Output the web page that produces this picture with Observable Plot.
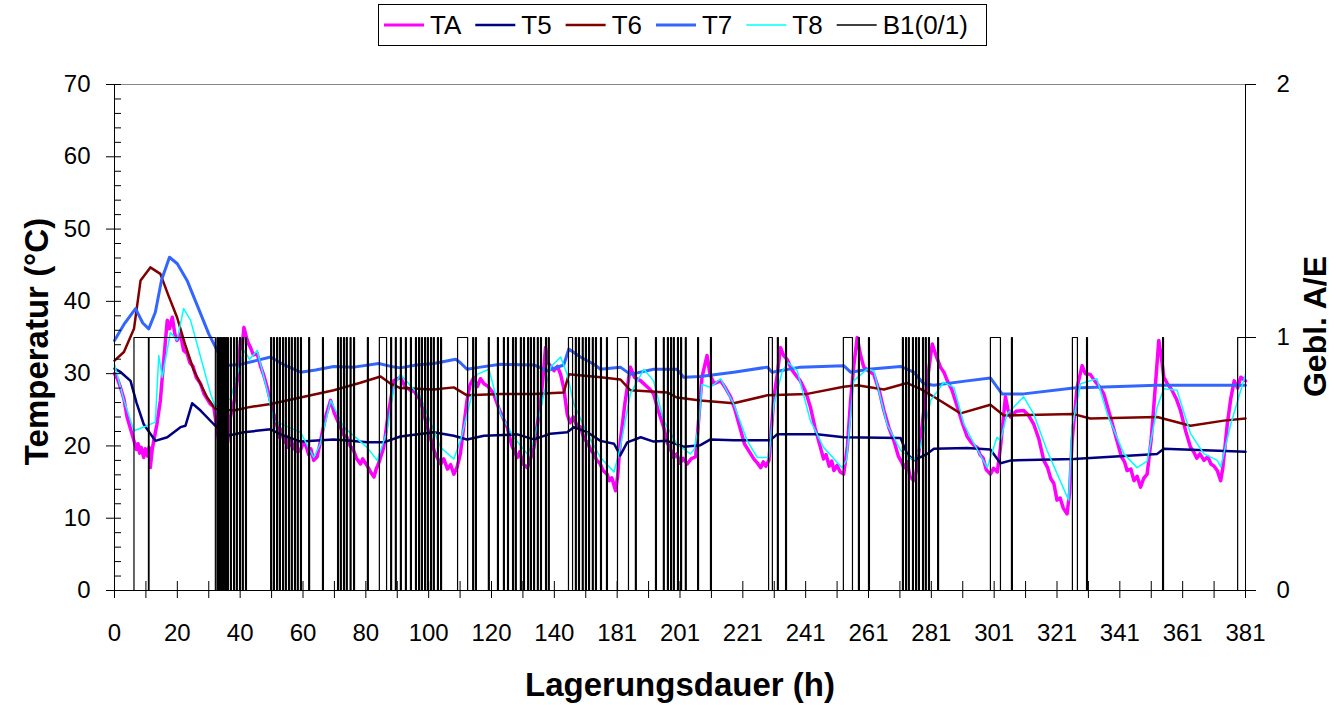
<!DOCTYPE html>
<html><head><meta charset="utf-8">
<script src="https://cdn.jsdelivr.net/npm/d3@7"></script>
<script src="https://cdn.jsdelivr.net/npm/@observablehq/plot@0.6"></script>
<style>
body{margin:0;background:#fff;font-family:"Liberation Sans",Arial,sans-serif;}
#legend{height:50px;}
#legend svg, #chart svg{display:block;}
</style></head><body>
<div id="legend"></div><div id="chart"></div>
<script>
// x = position on the category axis (one label every 20 positions)
const xLabels = ["0","20","40","60","80","100","120","140","181","201","221","241","261","281","301","321","341","361","381"];
const xLabelPos = [0,20,40,60,80,100,120,140,160,180,200,220,240,260,280,300,320,340,360];
const xTickPos = [0,10,20,30,40,50,60,70,80,90,100,110,120,130,140,150,160,170,180,190,200,210,220,230,240,250,260,270,280,290,300,310,320,330,340,350,360];
const yMajor = [0,10,20,30,40,50,60,70];
const yMinor = [2,4,6,8,12,14,16,18,22,24,26,28,32,34,36,38,42,44,46,48,52,54,56,58,62,64,66,68];
const rightLabels = ["0","1","2"];
const rightMax = 2;

const TA = [[0,30.0],[1,29.2],[1.9,28.1],[3,26.5],[4,24],[5,22.5],[6.2,20.7],[7,19.5],[7.5,20.3],[8,19.0],[8.5,19.8],[9.3,18.4],[9.8,19.6],[10.5,18.6],[11,19.8],[11.4,17.0],[12,19.5],[12.5,20.7],[13.5,23],[14.6,26.3],[15.5,31],[16.8,37.4],[17.5,36.2],[18.4,37.8],[19.2,35.5],[19.9,34.6],[21,35.5],[22,33.2],[23.1,32.8],[24,31.5],[25,31],[26,29.5],[27.4,28.6],[28.5,27.2],[29.5,26.5],[30.5,25.8],[31.6,25.4],[32.4,23],[33.2,20.7],[33.6,22],[34,19],[34.5,21],[35,22],[36,20.5],[36.9,24.0],[38.5,27],[39.3,30],[40.1,34.6],[40.6,33.5],[41.2,36.4],[42,35],[42.6,34.2],[43.3,33.6],[44.2,32.6],[45.4,32.8],[46.5,31],[47.5,29.8],[48.6,28.1],[50,25.5],[51.8,22.6],[52.5,21.2],[53,22.3],[54,20.5],[54.6,21.4],[55.3,19.8],[56,20.8],[56.8,19.6],[57.5,20.5],[58.3,19.2],[59.2,19.4],[60,20.4],[61,20],[61.8,18.8],[62.5,19.6],[63.4,18.0],[64.5,18.5],[66.5,22.6],[67.5,24.5],[68.8,26.3],[70,24.5],[71.9,22.6],[73,21.5],[74,21.2],[75,20],[76,19.5],[77,18.3],[78.3,17.5],[79,18.2],[80.5,17.2],[81.5,16.4],[82.6,15.7],[83.3,16.8],[84,17.5],[85.7,19.8],[87,24],[88.9,29.0],[91,29.5],[92.5,28.2],[94.2,27.7],[95.5,27.5],[97.4,26.3],[99,23.5],[100.5,21.2],[102,19],[103.8,17.5],[104.8,18.2],[106,16.8],[107,17.4],[108,16.1],[109,17],[110.1,18.9],[112.2,26.3],[113.2,28.5],[114.4,29.5],[115.5,28.2],[116.5,29.3],[117.6,28.6],[119,28.2],[120.7,27.2],[122.5,25],[125,22.6],[126.5,20],[128.2,18.4],[129,19.2],[130,17.5],[131.4,17.0],[132.3,18],[133.5,19.8],[135.6,25.8],[136.5,30],[137.2,33.6],[138,31.5],[139.9,30.4],[141,31],[142,29.9],[143,28],[144.1,24.4],[145,23.2],[146,24],[147,23],[148.3,22.6],[149.5,21],[150.5,20.5],[151.5,19.5],[152.6,18.9],[153.5,18],[154.5,17.6],[155.5,16.6],[156.8,16.1],[157.5,15.2],[158.3,15.6],[159.5,13.8],[160.2,16],[161,20.7],[162.5,26],[164.2,30.9],[165.5,29.5],[167.5,29.0],[169,28.4],[170.5,27.8],[171.6,27.2],[173,25],[174.8,22.6],[176,20.4],[177,19.5],[178,18.4],[179,18.9],[180,17.6],[181,18.3],[182.3,17.5],[183.5,18.2],[185,18.5],[186,24],[187,29.5],[188.6,32.5],[189.5,30],[190.8,28.6],[192.9,29.0],[194.5,28],[196.1,26.8],[197.5,25],[199.3,22.2],[200.5,20.3],[201.5,19.6],[202.5,18.9],[203.5,18.2],[204.5,17.7],[205.7,17.0],[206.5,17.8],[207.3,17.2],[208.3,18.0],[209.9,26.8],[211,30],[212,33.6],[213,32.5],[214.2,31.9],[215.5,30.6],[216.5,30],[218.3,29.0],[220,27.5],[221.5,25.4],[223,22.5],[224.7,19.8],[225.7,18.2],[226.5,18.8],[227.5,17.2],[228.3,17.9],[229,16.6],[230,17.3],[231,16.4],[232.1,16.1],[233.3,20],[234.3,26.3],[235.3,31],[236.4,35.0],[237.5,32.5],[238.5,30.9],[240,30.4],[241.7,29.9],[243.5,27.5],[244.9,24.9],[246.5,22.5],[248.1,20.7],[249.5,18.6],[250.5,17.8],[251.3,17.0],[252.3,17.8],[253.2,15.8],[254.4,15.2],[255.2,16.5],[256.5,20.7],[258.7,29.0],[260.3,34.1],[261.5,32.5],[262.9,30.9],[264,30.2],[265.1,29.0],[266.5,27.8],[268.3,25.4],[270,23],[271.4,21.3],[272.5,20.6],[273.5,20.1],[274.6,19.8],[275.5,18.8],[276.5,18.3],[277.5,16.7],[278.8,16.1],[279.8,16.9],[281,16.4],[282,19.8],[283.6,26.8],[284.4,25],[285.2,24.0],[287,24.8],[289.4,24.9],[291,24.2],[292.6,23.0],[294.2,21],[295.8,18.0],[297,17],[298,15.5],[299,14.8],[300,12.5],[301,12.8],[302,11.4],[303.2,10.6],[304,13.5],[304.8,20.7],[306.4,28.1],[308,31.1],[309,30],[310.6,29.9],[312,29],[313.5,28.2],[314.9,27.2],[317,24],[319.1,20.7],[320.5,18.5],[321.5,17.8],[322.3,16.6],[323.5,16.8],[324.5,15.2],[325.5,15.8],[326.6,14.3],[327.6,15.5],[328.7,16.1],[330,21],[330.8,25.4],[331.6,30],[332.4,34.6],[333.3,32],[334,29.5],[335.3,28.5],[336.6,27.7],[338,26.5],[339.3,24.9],[341,22],[342.5,19.8],[343.5,19.2],[344.5,18.3],[345.5,18.9],[346.8,18.0],[348,18.5],[349,17.5],[350,17.2],[351,16.6],[352.1,15.2],[352.8,17],[354.2,23.0],[355.3,26.5],[356.4,29.0],[357.5,28],[358.5,29.5],[360,29.0]];

const T5 = [[0,30.7],[2,30.2],[5.1,29.0],[7,26],[9.3,23.0],[13,20.7],[16.8,21.2],[21,22.6],[22.6,22.8],[24.7,25.9],[27.4,24.9],[31.6,23.0],[35.9,21.4],[41.2,21.9],[49.7,22.3],[52.9,21.6],[59.2,20.6],[69.8,20.9],[75.1,20.7],[80.4,20.5],[85.7,20.5],[91,21.3],[101.6,21.9],[108,21.4],[112.2,20.9],[117.6,21.4],[128.2,21.6],[133.5,20.9],[138.8,21.7],[144.1,21.9],[146.2,22.6],[150.5,21.9],[154.7,20.7],[159,20.3],[161,18.7],[163.2,20.5],[167.5,21.2],[171.6,20.6],[175.9,20.7],[181.2,19.9],[186.5,20.1],[189.7,20.9],[197.1,20.8],[208.8,20.8],[210.9,21.6],[223.6,21.6],[232.1,21.2],[250.2,21.1],[252.3,18.9],[254.4,18.0],[258.7,18.9],[260.8,19.6],[271.4,19.7],[278.8,19.5],[282,17.6],[285.4,18.0],[305.3,18.2],[331.9,18.9],[334,19.6],[360,19.2]];

const T6 = [[0,31.8],[3,33.0],[6.2,36.2],[8.3,42.9],[11.4,44.7],[14.6,43.8],[17,41],[19.9,37.8],[22.5,34],[25.2,30.5],[29.5,26.7],[32.1,25.1],[38,24.9],[43.3,25.4],[49.7,25.8],[59.2,26.7],[69.8,27.7],[78,28.7],[84.7,29.6],[87.9,28.6],[91,28.0],[101.6,27.8],[108,28.1],[112.2,27.0],[122.9,27.2],[133.5,27.2],[143,27.4],[144.6,29.9],[154.7,29.5],[161,29.2],[164.2,27.7],[175.9,27.4],[179,26.7],[186.5,26.3],[197.1,25.9],[207.8,27.0],[220.5,27.2],[232.1,28.2],[236.4,28.4],[244.9,27.8],[252.3,28.7],[256.5,27.9],[260.8,26.8],[269.3,24.5],[278.8,25.7],[283.1,24.2],[305.3,24.4],[310.6,23.8],[331.9,24.0],[342.5,22.8],[353.1,23.5],[360,23.8]];

const T7 = [[0,34.6],[3,36.8],[6.7,39.0],[9,37.0],[10.9,36.2],[13,38.5],[15,43],[17.5,46.1],[20,45.2],[23.1,42.9],[27.4,38.3],[30,35.5],[32.7,33.2],[35.2,31.1],[40.1,31.3],[45,31.8],[49.7,32.3],[54,31.2],[59.2,30.2],[64,30.5],[69.8,31.0],[76.2,30.9],[84.1,31.4],[88,31.0],[91,30.8],[96,31.2],[101.6,31.4],[108.6,32.0],[110.1,31.5],[112.2,30.6],[116.5,30.9],[122.9,31.3],[133.5,31.2],[137.7,30.4],[143,31.2],[144.6,33.4],[148.3,32.3],[152.6,31.3],[154.7,30.6],[161,30.9],[164.2,29.9],[171.6,30.6],[179,30.6],[181.2,29.5],[186.5,29.6],[197.1,30.2],[207.8,30.9],[209.3,30.2],[218.3,30.9],[232.1,31.1],[234.3,30.2],[240,30.6],[250.2,31.0],[254.4,30.2],[257.6,28.6],[260.8,28.4],[271.4,29.0],[278.8,29.4],[282.5,27.2],[289.4,27.2],[305.3,28.0],[331.9,28.4],[360,28.4]];

const T8 = [[0,31.3],[3,26.3],[6.2,22.1],[10.4,22.8],[13,23.3],[14.1,32.5],[15.2,29.5],[17.8,35.7],[19.9,34.6],[22,39.0],[24.2,37.4],[27.4,32.3],[30.6,27.2],[32.1,25.4],[36.9,26.5],[41.2,33.2],[43,32.0],[45.4,33.2],[48.6,27.7],[50.7,23.5],[59.2,21.9],[63.4,18.4],[65.5,20.3],[68.8,26.3],[73,22.6],[80.4,19.8],[83.6,18.0],[86.8,22.1],[88.9,28.1],[91,29.9],[97.4,26.8],[103.8,19.8],[108,18.2],[110.1,20.7],[115.4,29.9],[119.2,30.6],[122.9,24.4],[127.1,21.2],[131.4,18.9],[133.5,20.7],[136.7,27.2],[138.8,30.9],[142,32.3],[144.1,29.9],[146.2,25.8],[150.5,21.7],[154.7,18.4],[159,16.4],[161,19.8],[164.2,27.2],[168.5,30.6],[171.6,29.0],[174.8,23.5],[179,20.3],[183.3,18.9],[184.5,19.5],[186,23],[187,28.5],[189.7,28.1],[192.9,29.3],[197.1,25.8],[201.4,20.7],[204.6,18.4],[208.3,18.4],[209.9,25.8],[212.6,30.4],[214.5,31.5],[217.3,30.4],[221.5,23.5],[225.7,19.8],[231.5,17.0],[233,18],[235.3,29.0],[239.5,30.6],[241.7,30.4],[245.9,23.0],[250.2,19.4],[254.4,18.0],[256.5,19.8],[259.8,26.3],[264,28.8],[267.2,28.1],[270.4,23.0],[273.6,20.3],[277.8,17.0],[280.9,21.2],[282,20.7],[284.1,24.4],[289.4,26.8],[292.6,24.4],[296.8,19.4],[303.7,12.5],[304.8,22.6],[307.5,28.6],[312.7,29.3],[316,24.4],[321.3,18.9],[325.5,17.0],[328.7,17.9],[331.9,25.4],[334,27.9],[338.2,27.7],[342.5,21.7],[346.8,18.9],[351,18.0],[352.1,17.1],[355.3,23.0],[360,29.9]];

// B1 (0/1): intervals where the blower is on
const B1on = [[6.2,10.8],[11.0,32.1],
[32.6,32.85],[33.1,33.35],[33.6,33.85],[34.1,34.35],[34.6,34.85],[35.0,35.25],[35.5,35.75],[36.0,36.25],[36.9,37.2],[37.9,38.2],[38.8,39.1],[39.8,40.1],[40.7,41.0],[41.7,42.0],
[49.7,50.0],[50.6,50.9],[51.6,51.9],[52.5,52.8],[53.5,53.8],[54.4,54.7],[55.4,55.7],[56.3,56.6],[57.3,57.6],[58.2,58.5],[59.2,59.5],
[61.8,62.1],[66.2,66.5],
[71.0,71.3],[71.9,72.2],[72.9,73.2],[73.8,74.1],[75.0,75.3],[76.1,76.4],[80.5,80.8],
[84.3,86.6],[87.9,88.2],[89.4,89.7],[91.0,91.3],[92.6,92.9],[94.2,94.5],[95.8,96.1],[96.8,97.1],[97.7,98.0],[98.7,99.0],[99.6,99.9],[100.6,100.9],[101.5,101.8],[102.8,103.1],[103.8,104.1],
[109.2,112.4],[114.0,114.3],[114.9,115.2],[119.0,119.3],[121.9,122.2],
[123.8,124.1],[125.1,125.4],[126.7,127.0],[127.6,127.9],[129.2,129.5],[130.2,130.5],[131.5,131.8],[132.4,132.7],[133.4,133.7],[134.6,134.9],[135.6,135.9],[137.2,137.5],[138.1,138.4],
[144.5,145.8],[146.7,147.0],[147.7,148.0],[148.9,149.2],[149.9,150.2],[150.9,151.2],[152.1,152.4],[153.1,153.4],[154.7,155.0],[156.6,156.9],
[160.1,163.6],[165.8,166.1],
[172.2,172.5],[174.7,175.0],[176.0,176.3],[177.0,177.3],[177.9,178.2],[179.2,179.5],[180.2,180.5],[181.7,182.0],[185.6,185.9],[189.7,190.0],
[208.2,209.4],[211.0,211.3],[213.6,213.9],
[232.0,234.9],[236.8,237.1],[240.0,240.3],
[250.8,251.1],[251.8,252.1],[252.7,253.0],[254.0,254.3],[255.0,255.3],[255.9,256.2],[257.2,257.5],[258.1,258.4],[259.1,259.4],[262.0,262.3],
[278.8,282.0],[285.5,285.8],
[304.9,306.5],[309.4,309.7],
[333.6,333.9],
[357.5,360]];

const series = [
  {name:"TA", data:TA, color:"#ff00ff", width:3.5},
  {name:"T5", data:T5, color:"#000080", width:2.5},
  {name:"T6", data:T6, color:"#800000", width:2.5},
  {name:"T7", data:T7, color:"#3366ff", width:3},
  {name:"T8", data:T8, color:"#00ffff", width:1.5},
];

// B1 step line, mapped onto the secondary axis (0..2 -> 0..70)
const yMax = 70;
const b1 = [[0,0]];
for (const [s,e] of B1on) {
  b1.push([s,0],[s,1],[e,1]);
  if (e < 360) b1.push([e,0]);
}
if (b1[b1.length-1][0] < 360) b1.push([360,0]);
const b1y = d => d[1] * yMax / rightMax;
const rightPos = rightLabels.map((l) => (+l) * yMax / rightMax);

// ---------- legend ----------
const leg = [...series.map(s => ({name:s.name, color:s.color, width:s.width>3?3:s.width})), {name:"B1(0/1)", color:"#000", width:1.3}];
const lsvg = d3.select("#legend").append("svg").attr("width",1338).attr("height",50)
  .style("font-family","'Liberation Sans',Arial,sans-serif");
lsvg.append("rect").attr("x",378.5).attr("y",4.5).attr("width",608).attr("height",41)
  .attr("fill","#fff").attr("stroke","#000").attr("stroke-width",1);
let lx = 384;
for (const it of leg) {
  lsvg.append("line").attr("x1",lx).attr("x2",lx+40).attr("y1",25).attr("y2",25)
    .attr("stroke",it.color).attr("stroke-width",it.width);
  const t = lsvg.append("text").attr("x",lx+46).attr("y",34).attr("font-size",26).attr("fill","#000").text(it.name);
  lx += 46 + t.node().getComputedTextLength() + 14;
}

// ---------- chart ----------
const labelOf = new Map(xLabelPos.map((p,i)=>[p, xLabels[i]]));
const rightLabelOf = new Map(rightPos.map((p,i)=>[p, rightLabels[i]]));
const px = d => d[0], py = d => d[1];

const chart = Plot.plot({
  width: 1338, height: 655,
  marginLeft: 114, marginRight: 93, marginTop: 34, marginBottom: 115,
  x: {domain: [0, 360]},
  y: {domain: [0, yMax]},
  style: {fontFamily: "'Liberation Sans', Arial, sans-serif", fontSize: "24px", color: "#000", background: "#fff", overflow: "visible"},
  marks: [
    Plot.ruleY([yMax], {stroke: "#888", strokeWidth: 1}),
    ...series.map(s => Plot.line(s.data, {x: px, y: py, stroke: s.color, strokeWidth: s.width, strokeLinejoin: "round"})),
    Plot.line(b1, {x: px, y: b1y, stroke: "#000", strokeWidth: 1.2}),
    Plot.ruleX([0], {stroke: "#000"}),
    Plot.ruleX([360], {stroke: "#000"}),
    Plot.ruleY([0], {stroke: "#000"}),
    Plot.axisY(yMajor, {tickSize: 0, tickPadding: 24, fontSize: 24, label: null}),
    Plot.axisY(yMajor, {tickSize: 15, dx: 7, tickFormat: () => "", label: null}),
    Plot.axisY(yMinor, {tickSize: 7, dx: 7, tickFormat: () => "", label: null}),
    Plot.axisY(rightPos, {anchor: "right", tickSize: 10, tickPadding: 21, fontSize: 24, tickFormat: d => rightLabelOf.get(d), label: null}),
    Plot.axisX(xTickPos, {tickSize: 17, dy: -9, tickFormat: () => "", label: null}),
    Plot.axisX(xLabelPos, {tickSize: 0, tickPadding: 33, fontSize: 24, tickFormat: d => labelOf.get(d), label: null}),
    Plot.text(["Lagerungsdauer (h)"], {frameAnchor: "bottom", dy: 95, fontSize: 33, fontWeight: "bold", textAnchor: "middle", lineAnchor: "middle"}),
    Plot.text(["Temperatur (°C)"], {frameAnchor: "left", dx: -77, dy: 4, rotate: -90, fontSize: 33, fontWeight: "bold", textAnchor: "middle", lineAnchor: "middle"}),
    Plot.text(["Gebl. A/E"], {frameAnchor: "right", dx: 70, dy: -11, rotate: -90, fontSize: 32, fontWeight: "bold", textAnchor: "middle", lineAnchor: "middle"})
  ]
});
document.getElementById("chart").appendChild(chart);
</script></body></html>
